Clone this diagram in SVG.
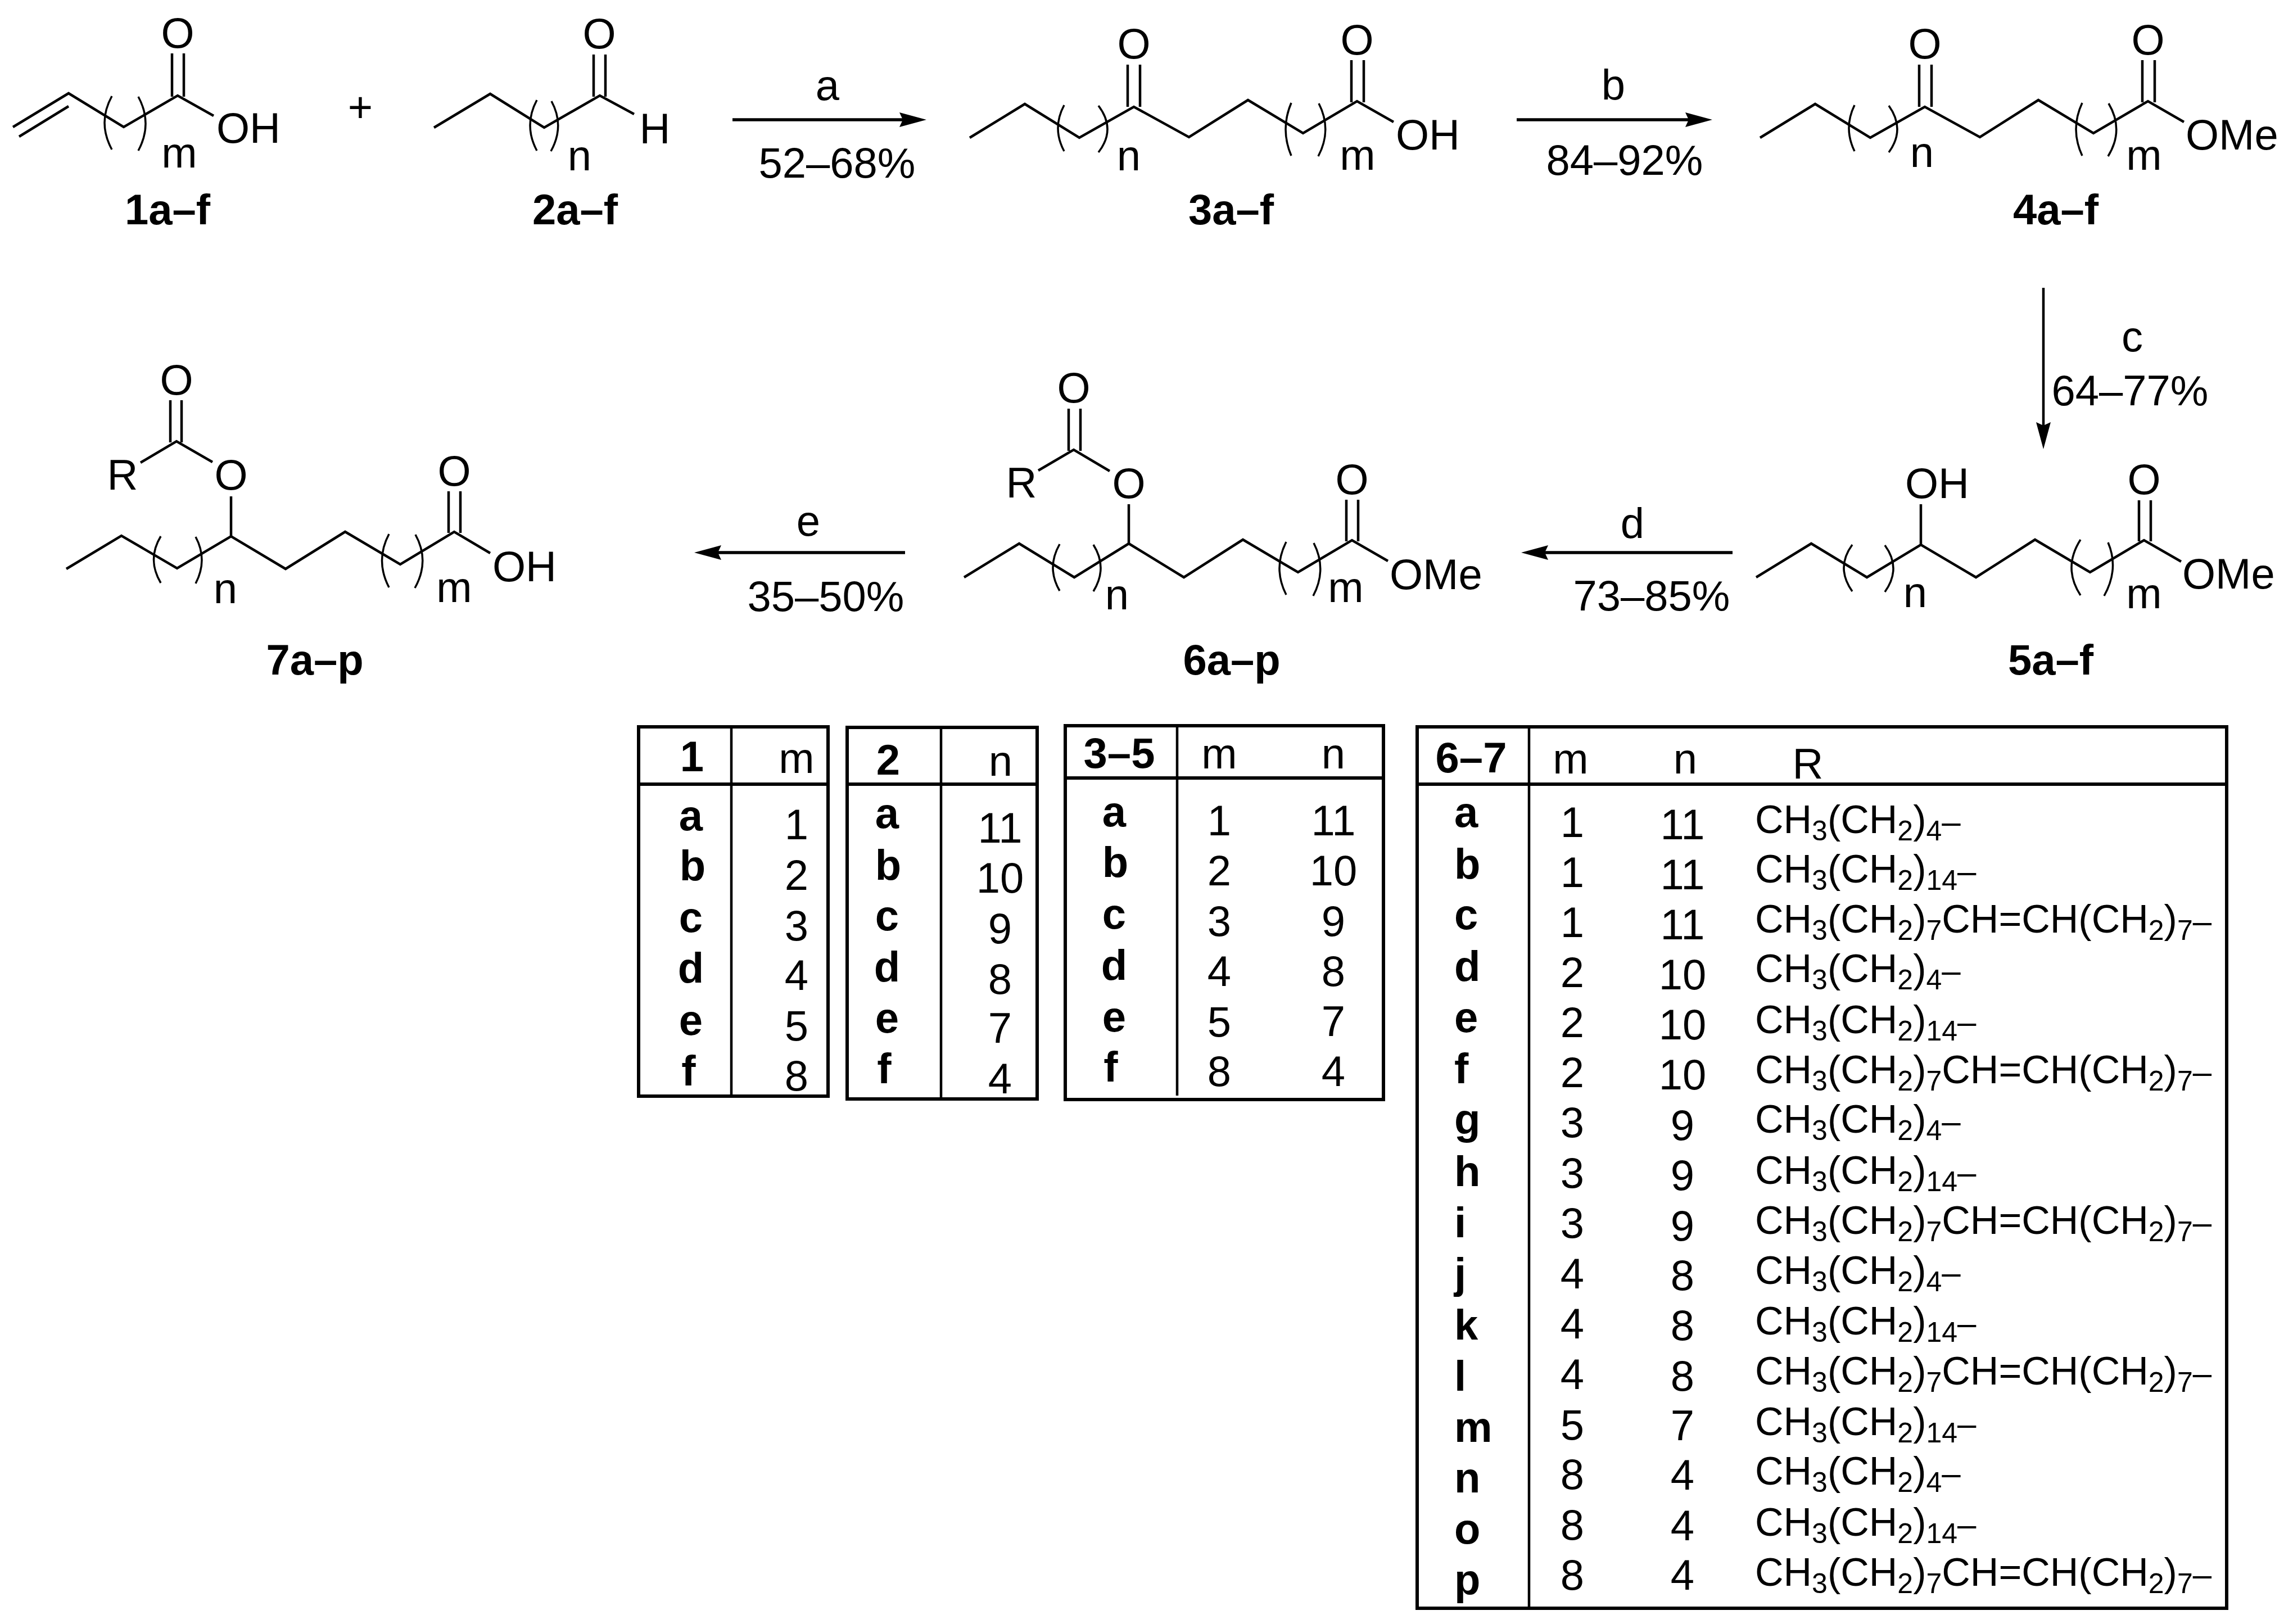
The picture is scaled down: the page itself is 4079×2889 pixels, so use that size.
<svg xmlns="http://www.w3.org/2000/svg" width="4079" height="2889" viewBox="0 0 4079 2889">
<style>
text{font-family:"Liberation Sans",Arial,sans-serif;font-size:76px;fill:#000}
.c{text-anchor:middle}
.bd{font-weight:bold}
.r{font-size:70px}
.s{font-size:50px}
.d{font-size:60px}
.bond{fill:none;stroke:#000;stroke-width:4.5}
.par{fill:none;stroke:#000;stroke-width:3.5}
.arr{fill:none;stroke:#000;stroke-width:5.5;marker-end:url(#head)}
.frame{fill:none;stroke:#000;stroke-width:6}
.div{fill:none;stroke:#000;stroke-width:4.5}
</style>
<defs>
<marker id="head" markerUnits="userSpaceOnUse" viewBox="-8 -15 52 30" refX="0" refY="0" markerWidth="52" markerHeight="30" orient="auto"><path d="M0 0L-6 -13L42 0L-6 13Z" fill="#000"/></marker>
</defs>
<rect width="4079" height="2889" fill="#fff"/>
<g id="connectors">
<path class="arr" d="M1303 213H1606"/>
<path class="arr" d="M2698 213H3004"/>
<path class="arr" style="stroke-width:4.5" d="M3635 512V757"/>
<path class="arr" d="M3082 983H2748"/>
<path class="arr" d="M1610 983H1277"/>
</g>
<g id="conditions">
<text class="c" x="1472" y="178">a</text><text class="c" x="1489" y="316">52–68%</text>
<text class="c" x="2870" y="177">b</text><text class="c" x="2890" y="311">84–92%</text>
<text class="c" x="3793" y="625">c</text><text class="c" x="3789" y="721">64–77%</text>
<text class="c" x="2904" y="957">d</text><text class="c" x="2938" y="1086">73–85%</text>
<text class="c" x="1438" y="953">e</text><text class="c" x="1469" y="1087">35–50%</text>
</g>
<g id="plus"><text class="c" x="641" y="217">+</text></g>
<g id="compound-1">
<path class="bond" d="M23 226L122 166L220 226L316 170L380 206"/>
<path class="bond" d="M34 243L122 189M306 95V172M327 95V172"/>
<path class="par" d="M199 171Q173 218 199 266M246 172Q272 220 246 268"/>
<text class="c" x="316" y="85">O</text><text class="c" x="319" y="298">m</text><text x="385" y="254">OH</text>
<text class="c bd" x="298" y="399">1a–f</text>
</g>
<g id="compound-2">
<path class="bond" d="M772 227L872 167L968 227L1067 170L1128 203"/>
<path class="bond" d="M1056 97V172M1077 97V172"/>
<path class="par" d="M955 178Q931 223 955 268M981 180Q1005 224 980 269"/>
<text class="c" x="1066" y="86">O</text><text class="c" x="1031" y="303">n</text><text class="c" x="1165" y="255">H</text>
<text class="c bd" x="1023" y="399">2a–f</text>
</g>
<g id="compound-3">
<path class="bond" d="M1725 245L1823 185L1920 245L2017 190L2115 244L2220 178L2318 237L2414 180L2479 217"/>
<path class="bond" d="M2006 115V190M2028 115V190M2404 107V182M2426 107V182"/>
<path class="par" d="M1893 187Q1871 228 1893 269M1954 188Q1986 230 1954 271M2297 183Q2277 230 2297 277M2346 184Q2370 231 2345 278"/>
<text class="c" x="2017" y="104">O</text><text class="c" x="2414" y="97">O</text>
<text class="c" x="2008" y="303">n</text><text class="c" x="2415" y="302">m</text><text x="2483" y="266">OH</text>
<text class="c bd" x="2190" y="399">3a–f</text>
</g>
<g id="compound-4">
<path class="bond" d="M3131 245L3229 185L3327 245L3424 190L3522 244L3626 178L3724 237L3821 180L3885 217"/>
<path class="bond" d="M3414 115V190M3436 115V190M3811 107V182M3833 107V182"/>
<path class="par" d="M3299 187Q3279 228 3299 269M3360 188Q3390 230 3360 271M3704 183Q3682 230 3704 277M3751 184Q3779 231 3750 278"/>
<text class="c" x="3424" y="104">O</text><text class="c" x="3821" y="97">O</text>
<text class="c" x="3419" y="297">n</text><text class="c" x="3814" y="302">m</text><text x="3888" y="266">OMe</text>
<text class="c bd" x="3657" y="399">4a–f</text>
</g>
<g id="compound-5">
<path class="bond" d="M3124 1027L3222 967L3321 1027L3417 969L3515 1027L3620 960L3718 1018L3814 961L3880 999"/>
<path class="bond" d="M3417 897V969M3805 890V963M3826 890V963"/>
<path class="par" d="M3295 969Q3265 1010 3295 1052M3353 970Q3383 1011 3353 1053M3701 960Q3669 1010 3701 1059M3750 965Q3770 1012 3743 1060"/>
<text x="3389" y="886">OH</text><text class="c" x="3814" y="879">O</text>
<text class="c" x="3407" y="1080">n</text><text class="c" x="3814" y="1082">m</text><text x="3882" y="1047">OMe</text>
<text class="c bd" x="3648" y="1200">5a–f</text>
</g>
<g id="compound-6">
<path class="bond" d="M1715 1027L1813 967L1911 1027L2008 967L2106 1027L2211 960L2309 1018L2405 961L2469 998"/>
<path class="bond" d="M2008 897V967M1847 837L1910 800L1974 838M1901 727V802M1922 727V802M2395 889V963M2416 889V963"/>
<path class="par" d="M1885 968Q1861 1010 1885 1051M1945 969Q1971 1010 1945 1052M2288 964Q2264 1011 2288 1058M2337 966Q2361 1013 2336 1060"/>
<text class="c" x="2008" y="886">O</text><text class="c" x="1910" y="716">O</text><text class="c" x="1817" y="885">R</text><text class="c" x="2405" y="879">O</text>
<text class="c" x="1987" y="1084">n</text><text class="c" x="2394" y="1071">m</text><text x="2472" y="1048">OMe</text>
<text class="c bd" x="2191" y="1200">6a–p</text>
</g>
<g id="compound-7">
<path class="bond" d="M118 1012L216 953L315 1011L411 954L508 1012L614 946L712 1004L808 946L872 984"/>
<path class="bond" d="M411 883V954M250 823L314 785L378 822M303 712V787M323 712V787M798 874V948M819 874V948"/>
<path class="par" d="M286 954Q261 995 286 1037M348 955Q370 996 348 1038M692 950Q667 997 692 1045M739 951Q765 998 738 1046"/>
<text class="c" x="411" y="871">O</text><text class="c" x="314" y="702">O</text><text class="c" x="218" y="871">R</text><text class="c" x="808" y="864">O</text>
<text class="c" x="401" y="1073">n</text><text class="c" x="808" y="1071">m</text><text x="876" y="1034">OH</text>
<text class="c bd" x="560" y="1200">7a–p</text>
</g>
<g id="table-1">
<rect class="frame" x="1136" y="1293" width="337" height="657"/>
<path class="div" d="M1301 1293V1950"/><path class="frame" d="M1136 1395H1473"/>
<g class="c">
<text class="c bd" x="1231" y="1372">1</text><text class="c" x="1417" y="1375">m</text>
<text class="c bd" x="1229" y="1477">a</text><text class="c bd" x="1232" y="1566">b</text><text class="c bd" x="1229" y="1658">c</text><text class="c bd" x="1229" y="1748">d</text><text class="c bd" x="1229" y="1841">e</text><text class="c bd" x="1225" y="1931">f</text>
<text class="c" x="1417" y="1493">1</text><text class="c" x="1417" y="1583">2</text><text class="c" x="1417" y="1673">3</text><text class="c" x="1417" y="1761">4</text><text class="c" x="1417" y="1851">5</text><text class="c" x="1417" y="1940">8</text>
</g>
</g>
<g id="table-2">
<rect class="frame" x="1507" y="1294" width="338" height="661"/>
<path class="div" d="M1674 1294V1955"/><path class="frame" d="M1507 1395H1845"/>
<text class="c bd" x="1580" y="1378">2</text><text class="c" x="1780" y="1380">n</text>
<text class="c bd" x="1578" y="1473">a</text><text class="c bd" x="1580" y="1565">b</text><text class="c bd" x="1578" y="1655">c</text><text class="c bd" x="1578" y="1746">d</text><text class="c bd" x="1578" y="1837">e</text><text class="c bd" x="1573" y="1927">f</text>
<text class="c" x="1779" y="1499">11</text><text class="c" x="1779" y="1588">10</text><text class="c" x="1779" y="1678">9</text><text class="c" x="1779" y="1768">8</text><text class="c" x="1779" y="1855">7</text><text class="c" x="1779" y="1945">4</text>
</g>
<g id="table-3-5">
<rect class="frame" x="1895" y="1291" width="566" height="665"/>
<path class="div" d="M2094 1291V1949"/><path class="frame" d="M1895 1384H2461"/>
<text class="c bd" x="1991" y="1366">3–5</text><text class="c" x="2169" y="1367">m</text><text class="c" x="2372" y="1367">n</text>
<text class="c bd" x="1982" y="1470">a</text><text class="c bd" x="1984" y="1560">b</text><text class="c bd" x="1982" y="1652">c</text><text class="c bd" x="1982" y="1743">d</text><text class="c bd" x="1982" y="1835">e</text><text class="c bd" x="1976" y="1924">f</text>
<text class="c" x="2169" y="1486">1</text><text class="c" x="2169" y="1575">2</text><text class="c" x="2169" y="1665">3</text><text class="c" x="2169" y="1754">4</text><text class="c" x="2169" y="1844">5</text><text class="c" x="2169" y="1932">8</text>
<text class="c" x="2372" y="1486">11</text><text class="c" x="2372" y="1575">10</text><text class="c" x="2372" y="1665">9</text><text class="c" x="2372" y="1754">8</text><text class="c" x="2372" y="1843">7</text><text class="c" x="2372" y="1932">4</text>
</g>
<g id="table-6-7">
<rect class="frame" x="2521" y="1293" width="1440" height="1568"/>
<path class="div" d="M2720 1293V2861"/><path class="frame" d="M2521 1395H3961"/>
<text class="c bd" x="2617" y="1374">6–7</text><text class="c" x="2794" y="1376">m</text><text class="c" x="2998" y="1376">n</text><text class="c" x="3216" y="1385">R</text>
<g class="bd">
<text class="bd" x="2587" y="1471">a</text><text class="bd" x="2587" y="1563">b</text><text class="bd" x="2587" y="1653">c</text><text class="bd" x="2587" y="1745">d</text><text class="bd" x="2587" y="1836">e</text><text class="bd" x="2587" y="1927">f</text><text class="bd" x="2587" y="2017">g</text><text class="bd" x="2587" y="2110">h</text><text class="bd" x="2587" y="2201">i</text><text class="bd" x="2587" y="2291">j</text><text class="bd" x="2587" y="2383">k</text><text class="bd" x="2587" y="2474">l</text><text class="bd" x="2587" y="2565">m</text><text class="bd" x="2587" y="2655">n</text><text class="bd" x="2587" y="2746">o</text><text class="bd" x="2587" y="2836">p</text>
</g>
<text class="c" x="2797" y="1489">1</text><text class="c" x="2797" y="1578">1</text><text class="c" x="2797" y="1667">1</text><text class="c" x="2797" y="1756">2</text><text class="c" x="2797" y="1845">2</text><text class="c" x="2797" y="1934">2</text><text class="c" x="2797" y="2023">3</text><text class="c" x="2797" y="2113">3</text><text class="c" x="2797" y="2202">3</text><text class="c" x="2797" y="2292">4</text><text class="c" x="2797" y="2381">4</text><text class="c" x="2797" y="2471">4</text><text class="c" x="2797" y="2561">5</text><text class="c" x="2797" y="2649">8</text><text class="c" x="2797" y="2739">8</text><text class="c" x="2797" y="2828">8</text>
<text class="c" x="2993" y="1493">11</text><text class="c" x="2993" y="1582">11</text><text class="c" x="2993" y="1671">11</text><text class="c" x="2993" y="1760">10</text><text class="c" x="2993" y="1849">10</text><text class="c" x="2993" y="1938">10</text><text class="c" x="2993" y="2028">9</text><text class="c" x="2993" y="2117">9</text><text class="c" x="2993" y="2207">9</text><text class="c" x="2993" y="2295">8</text><text class="c" x="2993" y="2384">8</text><text class="c" x="2993" y="2474">8</text><text class="c" x="2993" y="2562">7</text><text class="c" x="2993" y="2650">4</text><text class="c" x="2993" y="2740">4</text><text class="c" x="2993" y="2828">4</text>
<text class="r" x="3122" y="1482">CH<tspan class="s" dy="13">3</tspan><tspan dy="-13">(CH</tspan><tspan class="s" dy="13">2</tspan><tspan dy="-13">)</tspan><tspan class="s" dy="13">4</tspan><tspan class="d" dy="-13">–</tspan></text>
<text class="r" x="3122" y="1570">CH<tspan class="s" dy="13">3</tspan><tspan dy="-13">(CH</tspan><tspan class="s" dy="13">2</tspan><tspan dy="-13">)</tspan><tspan class="s" dy="13">14</tspan><tspan class="d" dy="-13">–</tspan></text>
<text class="r" x="3122" y="1659">CH<tspan class="s" dy="13">3</tspan><tspan dy="-13">(CH</tspan><tspan class="s" dy="13">2</tspan><tspan dy="-13">)</tspan><tspan class="s" dy="13">7</tspan><tspan dy="-13">CH=CH(CH</tspan><tspan class="s" dy="13">2</tspan><tspan dy="-13">)</tspan><tspan class="s" dy="13">7</tspan><tspan class="d" dy="-13">–</tspan></text>
<text class="r" x="3122" y="1747">CH<tspan class="s" dy="13">3</tspan><tspan dy="-13">(CH</tspan><tspan class="s" dy="13">2</tspan><tspan dy="-13">)</tspan><tspan class="s" dy="13">4</tspan><tspan class="d" dy="-13">–</tspan></text>
<text class="r" x="3122" y="1838">CH<tspan class="s" dy="13">3</tspan><tspan dy="-13">(CH</tspan><tspan class="s" dy="13">2</tspan><tspan dy="-13">)</tspan><tspan class="s" dy="13">14</tspan><tspan class="d" dy="-13">–</tspan></text>
<text class="r" x="3122" y="1927">CH<tspan class="s" dy="13">3</tspan><tspan dy="-13">(CH</tspan><tspan class="s" dy="13">2</tspan><tspan dy="-13">)</tspan><tspan class="s" dy="13">7</tspan><tspan dy="-13">CH=CH(CH</tspan><tspan class="s" dy="13">2</tspan><tspan dy="-13">)</tspan><tspan class="s" dy="13">7</tspan><tspan class="d" dy="-13">–</tspan></text>
<text class="r" x="3122" y="2015">CH<tspan class="s" dy="13">3</tspan><tspan dy="-13">(CH</tspan><tspan class="s" dy="13">2</tspan><tspan dy="-13">)</tspan><tspan class="s" dy="13">4</tspan><tspan class="d" dy="-13">–</tspan></text>
<text class="r" x="3122" y="2106">CH<tspan class="s" dy="13">3</tspan><tspan dy="-13">(CH</tspan><tspan class="s" dy="13">2</tspan><tspan dy="-13">)</tspan><tspan class="s" dy="13">14</tspan><tspan class="d" dy="-13">–</tspan></text>
<text class="r" x="3122" y="2195">CH<tspan class="s" dy="13">3</tspan><tspan dy="-13">(CH</tspan><tspan class="s" dy="13">2</tspan><tspan dy="-13">)</tspan><tspan class="s" dy="13">7</tspan><tspan dy="-13">CH=CH(CH</tspan><tspan class="s" dy="13">2</tspan><tspan dy="-13">)</tspan><tspan class="s" dy="13">7</tspan><tspan class="d" dy="-13">–</tspan></text>
<text class="r" x="3122" y="2284">CH<tspan class="s" dy="13">3</tspan><tspan dy="-13">(CH</tspan><tspan class="s" dy="13">2</tspan><tspan dy="-13">)</tspan><tspan class="s" dy="13">4</tspan><tspan class="d" dy="-13">–</tspan></text>
<text class="r" x="3122" y="2374">CH<tspan class="s" dy="13">3</tspan><tspan dy="-13">(CH</tspan><tspan class="s" dy="13">2</tspan><tspan dy="-13">)</tspan><tspan class="s" dy="13">14</tspan><tspan class="d" dy="-13">–</tspan></text>
<text class="r" x="3122" y="2463">CH<tspan class="s" dy="13">3</tspan><tspan dy="-13">(CH</tspan><tspan class="s" dy="13">2</tspan><tspan dy="-13">)</tspan><tspan class="s" dy="13">7</tspan><tspan dy="-13">CH=CH(CH</tspan><tspan class="s" dy="13">2</tspan><tspan dy="-13">)</tspan><tspan class="s" dy="13">7</tspan><tspan class="d" dy="-13">–</tspan></text>
<text class="r" x="3122" y="2553">CH<tspan class="s" dy="13">3</tspan><tspan dy="-13">(CH</tspan><tspan class="s" dy="13">2</tspan><tspan dy="-13">)</tspan><tspan class="s" dy="13">14</tspan><tspan class="d" dy="-13">–</tspan></text>
<text class="r" x="3122" y="2641">CH<tspan class="s" dy="13">3</tspan><tspan dy="-13">(CH</tspan><tspan class="s" dy="13">2</tspan><tspan dy="-13">)</tspan><tspan class="s" dy="13">4</tspan><tspan class="d" dy="-13">–</tspan></text>
<text class="r" x="3122" y="2732">CH<tspan class="s" dy="13">3</tspan><tspan dy="-13">(CH</tspan><tspan class="s" dy="13">2</tspan><tspan dy="-13">)</tspan><tspan class="s" dy="13">14</tspan><tspan class="d" dy="-13">–</tspan></text>
<text class="r" x="3122" y="2821">CH<tspan class="s" dy="13">3</tspan><tspan dy="-13">(CH</tspan><tspan class="s" dy="13">2</tspan><tspan dy="-13">)</tspan><tspan class="s" dy="13">7</tspan><tspan dy="-13">CH=CH(CH</tspan><tspan class="s" dy="13">2</tspan><tspan dy="-13">)</tspan><tspan class="s" dy="13">7</tspan><tspan class="d" dy="-13">–</tspan></text>
</g>
</svg>
